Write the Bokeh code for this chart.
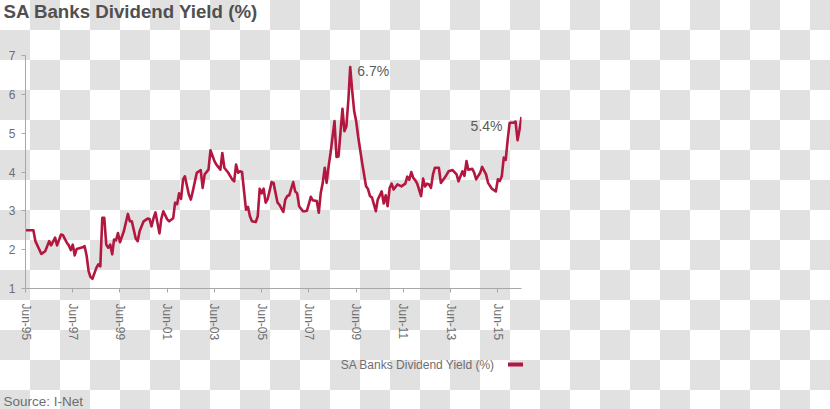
import pandas as pd
from bokeh.plotting import figure
from bokeh.models import (Label, FixedTicker, DatetimeTickFormatter, Range1d, ColumnDataSource,
                          GlobalInlineStyleSheet, Title, LinearAxis, CustomJSTickFormatter)
from bokeh.embed import file_html
from bokeh.resources import INLINE

# ---------------- data ----------------
dates = [
    "1995-06", "1995-10", "1995-11", "1996-02", "1996-04", "1996-06", "1996-07", "1996-09",
    "1996-10", "1996-12", "1997-01", "1997-03", "1997-04", "1997-05", "1997-06", "1997-07",
    "1997-08", "1997-11", "1997-12", "1998-01", "1998-02", "1998-03", "1998-04", "1998-06",
    "1998-07", "1998-08", "1998-09", "1998-10", "1998-11", "1998-12", "1999-01", "1999-02",
    "1999-03", "1999-04", "1999-05", "1999-06", "1999-08", "1999-10", "1999-11", "1999-12",
    "2000-02", "2000-03", "2000-04", "2000-06", "2000-08", "2000-09", "2000-10", "2000-11",
    "2000-12", "2001-01", "2001-02", "2001-03", "2001-04", "2001-06", "2001-07", "2001-09",
    "2001-10", "2001-11", "2001-12", "2002-01", "2002-02", "2002-03", "2002-05", "2002-06",
    "2002-07", "2002-09", "2002-11", "2002-12", "2003-01", "2003-03", "2003-04", "2003-06",
    "2003-07", "2003-09", "2003-10", "2003-11", "2004-01", "2004-03", "2004-04", "2004-05",
    "2004-06", "2004-07", "2004-08", "2004-10", "2004-11", "2004-12", "2005-01", "2005-03",
    "2005-04", "2005-05", "2005-06", "2005-07", "2005-08", "2005-09", "2005-11", "2005-12",
    "2006-02", "2006-03", "2006-05", "2006-06", "2006-07", "2006-08", "2006-10", "2006-11",
    "2006-12", "2007-01", "2007-03", "2007-04", "2007-05", "2007-07", "2007-08", "2007-10",
    "2007-11", "2007-12", "2008-01", "2008-02", "2008-03", "2008-04", "2008-05", "2008-07",
    "2008-08", "2008-09", "2008-10", "2008-11", "2008-12", "2009-01", "2009-02", "2009-03",
    "2009-04", "2009-05", "2009-06", "2009-07", "2009-09", "2009-11", "2009-12", "2010-01",
    "2010-02", "2010-04", "2010-05", "2010-07", "2010-08", "2010-09", "2010-10", "2010-11",
    "2010-12", "2011-01", "2011-03", "2011-05", "2011-07", "2011-08", "2011-09", "2011-10",
    "2011-11", "2011-12", "2012-01", "2012-03", "2012-04", "2012-05", "2012-06", "2012-07",
    "2012-08", "2012-09", "2012-10", "2012-12", "2013-01", "2013-03", "2013-05", "2013-07",
    "2013-09", "2013-10", "2013-12", "2014-01", "2014-02", "2014-03", "2014-05", "2014-06",
    "2014-07", "2014-09", "2014-10", "2014-12", "2015-01", "2015-03", "2015-05", "2015-06",
    "2015-07", "2015-08", "2015-09", "2015-10", "2015-11", "2015-12", "2016-02", "2016-03",
    "2016-04", "2016-05", "2016-06",
]
yield_pct = [
    2.50, 2.50, 2.22, 1.89, 1.96, 2.22, 2.11, 2.31,
    2.11, 2.39, 2.37, 2.18, 2.11, 1.99, 2.13, 1.85,
    2.02, 2.06, 2.09, 1.85, 1.45, 1.30, 1.25, 1.53,
    1.62, 1.57, 2.82, 2.82, 2.13, 2.05, 2.13, 1.88,
    2.26, 2.24, 2.43, 2.19, 2.48, 2.92, 2.73, 2.73,
    2.28, 2.22, 2.48, 2.73, 2.80, 2.79, 2.60, 2.81,
    2.96, 2.69, 2.42, 2.79, 2.99, 2.78, 2.73, 2.81,
    3.21, 3.17, 3.45, 3.31, 3.81, 3.89, 3.42, 3.29,
    3.50, 3.98, 4.05, 3.59, 3.94, 4.06, 4.56, 4.28,
    4.19, 4.06, 4.49, 4.11, 3.98, 3.81, 3.76, 4.19,
    3.98, 4.02, 4.00, 3.03, 3.10, 2.86, 2.73, 2.71,
    2.86, 3.57, 3.45, 3.57, 3.21, 3.30, 3.74, 3.72,
    3.21, 3.16, 2.97, 3.29, 3.38, 3.40, 3.74, 3.50,
    3.45, 3.12, 2.99, 2.99, 3.00, 3.36, 3.27, 3.25,
    2.95, 3.46, 3.72, 4.11, 3.72, 4.15, 4.49, 5.31,
    4.39, 4.40, 5.01, 5.63, 5.05, 5.18, 5.87, 6.70,
    6.08, 5.57, 5.31, 4.92, 4.24, 3.63, 3.56, 3.38,
    3.34, 2.99, 3.29, 3.50, 3.19, 3.40, 3.12, 3.59,
    3.70, 3.55, 3.68, 3.63, 3.70, 3.88, 3.80, 4.00,
    3.85, 3.79, 3.70, 3.38, 3.83, 3.63, 3.70, 3.68,
    3.59, 3.94, 4.11, 4.11, 3.72, 3.85, 4.02, 4.05,
    3.94, 3.76, 4.02, 3.90, 4.28, 4.06, 4.08, 3.98,
    3.81, 3.98, 4.13, 3.94, 3.72, 3.57, 3.50, 3.81,
    3.77, 3.89, 4.37, 4.31, 4.84, 5.27, 5.27, 5.30,
    4.82, 5.09, 5.42,
]
tick_dates = ["1995-06", "1997-06", "1999-06", "2001-06", "2003-06", "2005-06",
              "2007-06", "2009-06", "2011-06", "2013-06", "2015-06"]
y_ticks = [1, 2, 3, 4, 5, 6, 7]
series_name = "SA Banks Dividend Yield (%)"
title_text = "SA Banks Dividend Yield (%)"
source_text = "Source: I-Net"
peak_text = "6.7%"
last_text = "5.4%"

LINE_COLOR = "#b3173f"
TEXT_GRAY = "#6e6e6e"
AXIS_GRAY = "#a8a8a8"
FONT = "Liberation Sans"

# legend key placement, as fractions of the plot width
LEGEND_TEXT_POS = 0.791
LEGEND_SWATCH_POS = 0.987

# ---------------- figure ----------------
dt = pd.to_datetime(dates)
src = ColumnDataSource(dict(x=dt, y=yield_pct))
tick_ms = [int((t - pd.Timestamp("1970-01-01")) / pd.Timedelta("1ms")) for t in pd.to_datetime(tick_dates)]

checker_css = """
body {
  background-color: #ffffff;
  background-image: conic-gradient(#e1e1e1 0 25%, #ffffff 0 50%, #e1e1e1 0 75%, #ffffff 0 100%);
  background-size: 60px 60px;
  background-position: 0 0;
}
"""

p = figure(width=830, height=409, x_axis_type="datetime",
           x_range=Range1d(dt[0].to_pydatetime(), dt[-1].to_pydatetime()),
           y_range=Range1d(1, 7),
           output_backend="svg", toolbar_location=None,
           min_border_left=25, min_border_right=309, min_border_top=0, min_border_bottom=0)
p.stylesheets = [GlobalInlineStyleSheet(css=checker_css)]
p.background_fill_alpha = 0
p.border_fill_alpha = 0
p.outline_line_color = None
p.xgrid.visible = False
p.ygrid.visible = False


def spacer(standoff):
    return Title(text=" ", text_font=FONT, text_font_size="12px", standoff=standoff)


# spacer between title and frame (nearest to the frame)
p.add_layout(spacer(16), "above")

# title (outermost)
p.title.text = title_text
p.title.align = "left"
p.title.offset = -22
p.title.standoff = 0
p.title.vertical_align = "top"
p.title.text_font = FONT
p.title.text_font_size = "18.7px"
p.title.text_font_style = "bold"
p.title.text_color = "#505050"

line_r = p.line("x", "y", source=src, line_color=LINE_COLOR, line_width=2.6, line_join="round")

# axes
xax = p.xaxis[0]
yax = p.yaxis[0]
for ax in (xax, yax):
    ax.axis_line_color = AXIS_GRAY
    ax.major_tick_line_color = AXIS_GRAY
    ax.minor_tick_line_color = None
    ax.major_tick_in = 0
    ax.major_tick_out = 4
    ax.major_label_text_color = TEXT_GRAY
    ax.major_label_text_font = FONT

xax.ticker = FixedTicker(ticks=tick_ms)
fmt = "%b-%y"
xax.formatter = DatetimeTickFormatter(years=fmt, months=fmt, days=fmt, hours=fmt,
                                      minutes=fmt, seconds=fmt, milliseconds=fmt)
xax.major_label_orientation = "vertical"
xax.major_label_text_font_size = "12px"
xax.major_label_standoff = 11

yax.ticker = FixedTicker(ticks=y_ticks)
yax.major_label_text_font_size = "12px"
yax.major_label_standoff = 6

# below: spacer, legend key row (text, then coloured swatch), spacer, source note
p.add_layout(spacer(3), "below")

p.extra_x_ranges = {"legend": Range1d(0, 1)}
key_ax = LinearAxis(x_range_name="legend",
                    ticker=FixedTicker(ticks=[LEGEND_TEXT_POS], minor_ticks=[LEGEND_SWATCH_POS]),
                    formatter=CustomJSTickFormatter(args=dict(label=series_name), code="return label;"),
                    axis_line_color=None,
                    major_tick_line_color=None, major_tick_in=0, major_tick_out=4,
                    minor_tick_line_color=LINE_COLOR, minor_tick_line_width=15,
                    minor_tick_in=0, minor_tick_out=4,
                    major_label_standoff=-9,
                    major_label_text_font=FONT, major_label_text_font_size="12px",
                    major_label_text_color=TEXT_GRAY)
p.add_layout(key_ax, "below")

p.add_layout(spacer(0), "below")
src_title = Title(text=source_text, align="left", offset=-22, standoff=2,
                  vertical_align="bottom",
                  text_font=FONT, text_font_size="13.5px", text_font_style="normal",
                  text_color=TEXT_GRAY)
p.add_layout(src_title, "below")

# value annotations
i_peak = max(range(len(yield_pct)), key=lambda i: yield_pct[i])
p.add_layout(Label(x=dt[i_peak].to_pydatetime(), y=yield_pct[i_peak], x_offset=7, y_offset=-4,
                   text=peak_text, text_font=FONT, text_font_size="14px",
                   text_color="#5a5a5a", text_baseline="middle"))
p.add_layout(Label(x=dt[-1].to_pydatetime(), y=yield_pct[-1], x_offset=-19, y_offset=-9,
                   text=last_text, text_font=FONT, text_font_size="14px",
                   text_color="#5a5a5a", text_baseline="middle", text_align="right"))

open("out.html", "w").write(file_html(p, INLINE))
